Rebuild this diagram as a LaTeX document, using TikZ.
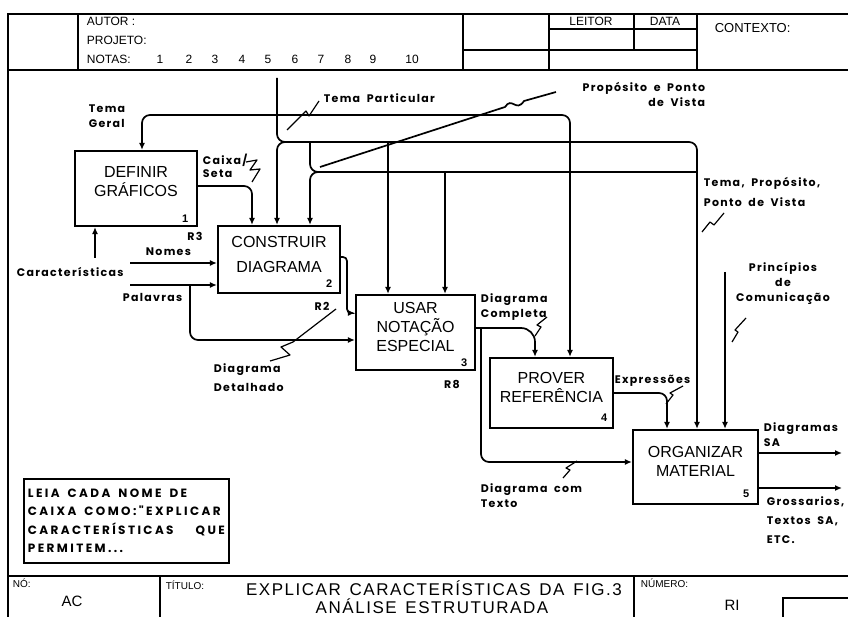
\documentclass[tikz,border=0pt]{standalone}
\usepackage{fontspec}
\setmainfont{Liberation Sans}
\newfontfamily\lblfont{Poppins}[LetterSpace=12, WordSpace=1.8]
\newfontfamily\notefont{Poppins}[LetterSpace=20]
\newfontfamily\titfont{Liberation Sans}[LetterSpace=9, WordSpace=1.4]
\newcommand\notespacing{\spaceskip=8pt plus 2pt\relax}
\usetikzlibrary{arrows.meta,calc,positioning}

\begin{document}
\begin{tikzpicture}[
    x=1pt,
    y=-1pt,
    line width=1.7pt,
    procbox/.style={draw, line width=2.2pt, minimum width=122pt, minimum height=72pt, inner sep=0pt},
    boxname/.style={font=\fontsize{16}{19}\selectfont, align=center, inner sep=0pt},
    boxnum/.style={font=\bfseries\fontsize{11}{11}\selectfont, inner sep=0pt},
    lbl/.style={font=\lblfont\bfseries\fontsize{11}{15}\selectfont, inner sep=0pt},
    flow/.style={-{Latex[length=7pt,width=6pt]}, rounded corners=8pt},
    pipe/.style={rounded corners=8pt},
    leader/.style={line width=1.2pt, line join=round},
    hdr/.style={font=\fontsize{12}{12}\selectfont, inner sep=0pt},
    notebox/.style={draw, line width=1.8pt, anchor=north west, align=left, text width=197pt, minimum height=84pt, inner sep=4pt, font=\notefont\bfseries\fontsize{12}{18.5}\selectfont}
  ]
    \useasboundingbox (0,0) rectangle (848,617);

    % form frame
    \draw (848,14) -- (8,14) -- (8,617);
    \draw (8,70) -- (848,70);
    \draw (8,576) -- (848,576);
    \draw (78,14) -- (78,70);
    \draw (463,14) -- (463,70);
    \draw (549,14) -- (549,70);
    \draw (697,14) -- (697,70);
    \draw (634,14) -- (634,50);
    \draw (549,29) -- (697,29);
    \draw (463,50) -- (697,50);
    \draw (160,576) -- (160,617);
    \draw (634,576) -- (634,617);
    \draw (783,617) -- (783,598) -- (848,598);

    % header
    \node[hdr, anchor=west] (autor) at (86,21) {AUTOR :};
    \node[hdr, anchor=west] (projeto) at (86,40) {PROJETO:};
    \node[hdr, anchor=west] (notas) at (86,59) {NOTAS:};
    \foreach \n/\px in {1/160,2/189,3/215,4/242,5/268,6/295,7/321,8/348,9/373,10/412}
      \node[hdr] (nota\n) at (\px,59) {\n};
    \node[hdr] (leitor) at (591,21) {LEITOR};
    \node[hdr] (data) at (665,21) {DATA};
    \node[hdr, anchor=west, font=\fontsize{13}{13}\selectfont] (contexto) at (714,28) {CONTEXTO:};

    % activity boxes
    \node[procbox, minimum height=75pt, label={[boxname,yshift=7pt]center:DEFINIR\\GRÁFICOS}] (defin) at (136,188.5) {};
    \node[procbox, minimum height=67pt, label={[boxname,yshift=5pt]center:CONSTRUIR\\[6pt]DIAGRAMA}] (constr) at (279,259.5) {};
    \node[procbox, minimum width=119pt, minimum height=75pt, label={[boxname,yshift=6pt]center:USAR\\NOTAÇÃO\\ESPECIAL}] (usar) at (415.5,332.5) {};
    \node[procbox, minimum width=123pt, minimum height=70pt, label={[boxname,yshift=6pt]center:PROVER\\REFERÊNCIA}] (prover) at (551.5,393) {};
    \node[procbox, minimum width=125pt, minimum height=74pt, label={[boxname,yshift=6pt]center:ORGANIZAR\\MATERIAL}] (organ) at (695.5,467) {};

    \node[boxnum] (num1) at ([shift={(-13,-8)}]defin.south east) {1};
    \node[boxnum] (num2) at ([shift={(-12,-10)}]constr.south east) {2};
    \node[boxnum] (num3) at ([shift={(-12,-8)}]usar.south east) {3};
    \node[boxnum] (num4) at ([shift={(-10,-11)}]prover.south east) {4};
    \node[boxnum] (num5) at ([shift={(-13,-11)}]organ.south east) {5};

    \node[lbl] (r3) at (195,236) {R3};
    \node[lbl] (r2) at (322,306) {R2};
    \node[lbl] (r8) at (452,384) {R8};

    % controls from the top
    \coordinate (tpIn) at (277,78);
    \coordinate (tpSplit) at (277,115);
    \coordinate (tpBend) at (277,142);
    \coordinate (tcBend) at (310,172);
    \draw[flow] (tpIn) -- (tpBend) -- (697,142) -- (697,142 |- organ.north);
    \draw[flow] (tpSplit) -- (142,115) -- (142,115 |- defin.north);
    \draw[flow] (tpSplit) -- (570,115) -- (570,115 |- prover.north);
    \draw[flow] (291,142) -- (tpBend) -- (tpBend |- constr.north);
    \draw[pipe] (310,142) -- (tcBend) -- (697,172);
    \draw[flow] (324,172) -- (tcBend) -- (tcBend |- constr.north);
    \draw[flow] (388,142) -- (388,142 |- usar.north);
    \draw[flow] (445,172) -- (445,172 |- usar.north);
    \draw (320,167) -- (505,107) .. controls (512,96) and (516,113) .. (524,101) -- (556,92);

    % box to box
    \draw[flow] (defin.east |- 0,186) -- (252,186) -- (252,186 |- constr.north);
    \draw[flow, rounded corners=4pt] (constr.east |- 0,257) -- (347,257) -- (347,313) -- (usar.west |- 0,313);
    \draw[flow, rounded corners=14pt] (usar.east |- 0,328) -- (535,328) -- (535,328 |- prover.north);
    \draw[flow] (481,328) -- (481,462) -- (organ.west |- 0,462);
    \draw[flow] (prover.east |- 0,393) -- (667,393) -- (667,393 |- organ.north);

    % inputs and outputs
    \coordinate (carIn) at (95,258);
    \coordinate (nomIn) at (130,263);
    \coordinate (palIn) at (130,285);
    \coordinate (prinIn) at (725,272);
    \coordinate (saOut) at (842,453);
    \coordinate (glosOut) at (842,488);
    \draw[flow] (carIn) -- (carIn |- defin.south);
    \draw[flow] (nomIn) -- (nomIn -| constr.west);
    \draw[flow] (palIn) -- (palIn -| constr.west);
    \draw[flow] (190,285) -- (190,340) -- (usar.west |- 0,340);
    \draw[flow] (prinIn) -- (prinIn |- organ.north);
    \draw[flow] (organ.east |- saOut) -- (saOut);
    \draw[flow] (organ.east |- glosOut) -- (glosOut);

    % squiggles
    \draw[leader] (287,130) -- (302,115) -- (306,111) -- (309,116) -- (319,101);
    \draw[leader] (246,162) -- (257,160) -- (250,170) -- (260,169) -- (252,182);
    \draw[leader] (270,361) -- (290,355) -- (281,347) -- (293,342) -- (336,309);
    \draw[leader] (535,336) -- (541,327) -- (537,325) -- (547,317);
    \draw[leader] (666,404) -- (673,395) -- (670,393) -- (683,386);
    \draw[leader] (563,478) -- (570,470) -- (566,468) -- (577,461);
    \draw[leader] (732,342) -- (738,332) -- (735,330) -- (746,318);
    \draw[leader] (702,232) -- (710,222) -- (714,225) -- (724,213);

    % labels
    \node[lbl, anchor=north west, align=left] (temaGeral) at (88,104) {Tema\\Geral};
    \node[lbl, anchor=north west, align=left, font=\lblfont\bfseries\fontsize{11}{13}\selectfont] (caixaSeta) at (202,153) {Caixa/\\Seta};
    \node[lbl, anchor=west] (caract) at (16,272) {Características};
    \node[lbl, anchor=west] (nomes) at (145,252) {Nomes};
    \node[lbl, anchor=west] (palavras) at (122,297) {Palavras};
    \node[lbl, anchor=west] (temaPart) at (323,98) {Tema Particular};
    \node[lbl, anchor=north east, align=right] (proposito) at (706,81) {Propósito e Ponto\\de Vista};
    \node[lbl, anchor=north west, align=left, font=\lblfont\bfseries\fontsize{11}{20}\selectfont] (temaProp) at (703,176) {Tema, Propósito,\\Ponto de Vista};
    \node[lbl, anchor=north, align=center] (princ) at (783,262) {Princípios\\de\\Comunicação};
    \node[lbl, anchor=north west, align=left] (completa) at (480,293) {Diagrama\\Completa};
    \node[lbl, anchor=north west, align=left, font=\lblfont\bfseries\fontsize{11}{19}\selectfont] (detalhado) at (213,363) {Diagrama\\Detalhado};
    \node[lbl, anchor=west] (expr) at (614,381) {Expressões};
    \node[lbl, anchor=north west, align=left] (comTexto) at (480,483) {Diagrama com\\Texto};
    \node[lbl, anchor=north west, align=left] (diagSA) at (763,422) {Diagramas\\SA};
    \node[lbl, anchor=north west, align=left, font=\lblfont\bfseries\fontsize{11}{19}\selectfont] (gloss) at (766,496) {Grossarios,\\Textos SA,\\ETC.};

    % reading note
    \node[notebox] (leia) at (23,478) {\notespacing LEIA CADA NOME DE\\CAIXA COMO:"EXPLICAR\\CARACTERÍSTICAS\hfill QUE\\PERMITEM...};

    % title block
    \node[hdr, anchor=west, font=\fontsize{10}{10}\selectfont] (no) at (12,583) {NÓ:};
    \node[hdr, font=\fontsize{15}{15}\selectfont] (ac) at (72,601) {AC};
    \node[hdr, anchor=west, font=\fontsize{10}{10}\selectfont] (titulo) at (165,585) {TÍTULO:};
    \node[hdr, font=\titfont\fontsize{17}{17}\selectfont] (tit1) at (434,588) {EXPLICAR CARACTERÍSTICAS DA FIG.3};
    \node[hdr, font=\titfont\fontsize{17}{17}\selectfont] (tit2) at (432,606) {ANÁLISE ESTRUTURADA};
    \node[hdr, anchor=west, font=\fontsize{10}{10}\selectfont] (numero) at (640,583) {NÚMERO:};
    \node[hdr, font=\fontsize{15}{15}\selectfont] (ri) at (732,605) {RI};
  \end{tikzpicture}
\end{document}
